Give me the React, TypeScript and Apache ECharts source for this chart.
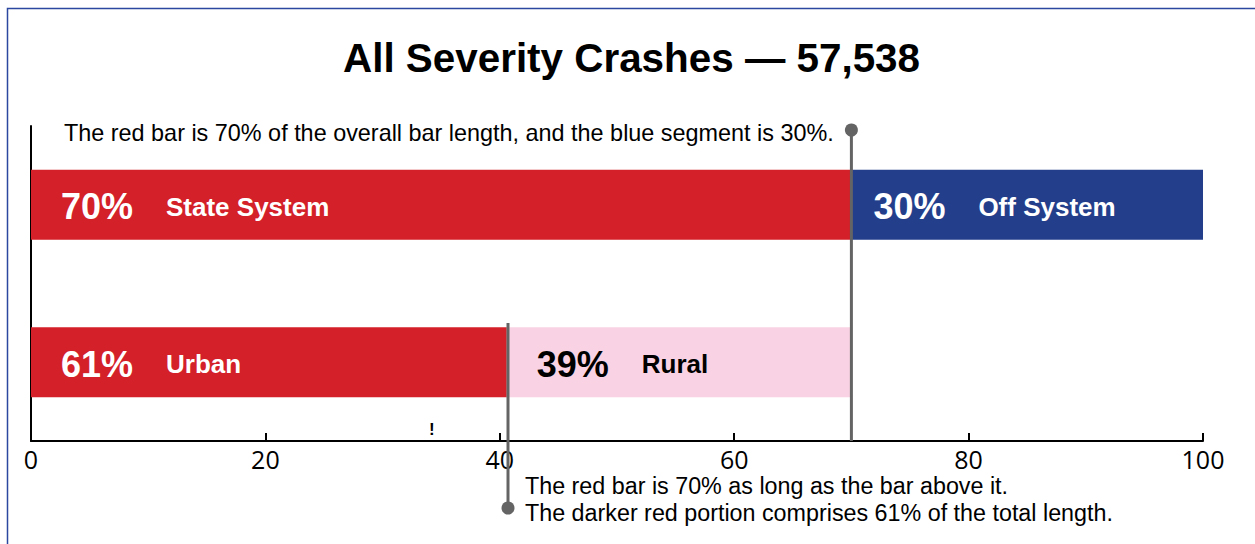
import React, { useEffect, useRef } from "react";
import * as echarts from "echarts";

const categories = ["System", "Area"];
const primaryValues = [70, 40.6];
const secondaryValues = [30, 29.4];
const primaryPct = ["70%", "61%"];
const primaryNames = ["State System", "Urban"];
const secondaryPct = ["30%", "39%"];
const secondaryNames = ["Off System", "Rural"];
const xTickLabels = [0, 20, 40, 60, 80, 100];
const markerTopValue = 70;
const markerBottomValue = 40.7;
const smallMarkValue = 34.2;
const titleText = "All Severity Crashes \u2014 57,538";
const noteTop = "The red bar is 70% of the overall bar length, and the blue segment is 30%.";
const noteBottom1 = "The red bar is 70% as long as the bar above it.";
const noteBottom2 = "The darker red portion comprises 61% of the total length.";

const RED = "#D42028";
const BLUE = "#233F8C";
const PINK = "#F9D3E3";
const GRAY = "#646464";
const FONT = "'Liberation Sans', Arial, sans-serif";

export default function App() {
  const ref = useRef<HTMLDivElement>(null);
  useEffect(() => {
    if (!ref.current) return;
    const chart = echarts.init(ref.current, null, { renderer: "svg" });
    const rich = (color: string) => ({
      p: { fontSize: 36, fontWeight: "bold", color, fontFamily: FONT, width: 105 },
      n: { fontSize: 26, fontWeight: "bold", color, fontFamily: FONT },
    });
    chart.setOption({
      animation: false,
      backgroundColor: "#ffffff",
      title: {
        text: titleText,
        left: 343,
        top: 38,
        padding: 0,
        textStyle: { fontSize: 40.4, fontWeight: "bold", color: "#000", fontFamily: FONT },
      },
      grid: { left: 31, right: 52, top: 126, bottom: 103, containLabel: false },
      xAxis: {
        type: "value",
        min: 0,
        max: 100,
        interval: 20,
        axisLine: { show: true, lineStyle: { color: "#000", width: 2 } },
        axisTick: { show: true, inside: true, length: 8, lineStyle: { color: "#000", width: 2 } },
        axisLabel: {
          color: "#000",
          fontSize: 25,
          fontFamily: "'Open Sans', sans-serif",
          margin: 5,
          formatter: (v: number) => (xTickLabels.includes(v) ? String(v) : ""),
        },
        splitLine: { show: false },
      },
      yAxis: {
        type: "category",
        inverse: true,
        data: categories,
        axisLine: { show: true, lineStyle: { color: "#000", width: 2 } },
        axisTick: { show: false },
        axisLabel: { show: false },
      },
      series: [
        {
          type: "bar",
          stack: "total",
          barWidth: 70,
          data: primaryValues.map((v, i) => ({
            value: v,
            itemStyle: { color: RED },
            label: {
              show: true,
              position: [30, "50%"],
              offset: [0, 2],
              align: "left",
              verticalAlign: "middle",
              formatter: `{p|${primaryPct[i]}}{n|${primaryNames[i]}}`,
              rich: rich("#ffffff"),
            },
          })),
        },
        {
          type: "bar",
          stack: "total",
          barWidth: 70,
          data: secondaryValues.map((v, i) => ({
            value: v,
            itemStyle: { color: i === 0 ? BLUE : PINK },
            label: {
              show: true,
              position: [i === 0 ? 22 : 30, "50%"],
              offset: [0, 2],
              align: "left",
              verticalAlign: "middle",
              formatter: `{p|${secondaryPct[i]}}{n|${secondaryNames[i]}}`,
              rich: rich(i === 0 ? "#ffffff" : "#000000"),
            },
          })),
        },
      ],
    });

    const xTop = chart.convertToPixel({ xAxisIndex: 0 }, markerTopValue) as number;
    const xBot = chart.convertToPixel({ xAxisIndex: 0 }, markerBottomValue) as number;
    const xMark = chart.convertToPixel({ xAxisIndex: 0 }, smallMarkValue) as number;
    const axisY = 441;

    chart.setOption({
      graphic: [
        {
          type: "rect",
          shape: { x: 7.5, y: 8.5, width: 1400, height: 700 },
          style: { fill: "none", stroke: "#2B47A0", lineWidth: 1.5 },
          silent: true,
        },
        {
          type: "line",
          shape: { x1: xTop, y1: 130, x2: xTop, y2: axisY },
          style: { stroke: GRAY, lineWidth: 3 },
          z: 10,
        },
        { type: "circle", shape: { cx: xTop, cy: 130, r: 6.5 }, style: { fill: GRAY }, z: 10 },
        {
          type: "line",
          shape: { x1: xBot, y1: 323, x2: xBot, y2: 508 },
          style: { stroke: GRAY, lineWidth: 3 },
          z: 10,
        },
        { type: "circle", shape: { cx: xBot, cy: 508, r: 6.5 }, style: { fill: GRAY }, z: 10 },
        {
          type: "text",
          x: 64,
          y: 133,
          style: { text: noteTop, fontSize: 23.4, fontFamily: FONT, fill: "#000", verticalAlign: "middle", align: "left" },
        },
        {
          type: "text",
          x: 525,
          y: 486,
          style: { text: noteBottom1, fontSize: 23.3, fontFamily: FONT, fill: "#000", verticalAlign: "middle", align: "left" },
        },
        {
          type: "text",
          x: 525,
          y: 513,
          style: { text: noteBottom2, fontSize: 23.3, fontFamily: FONT, fill: "#000", verticalAlign: "middle", align: "left" },
        },
        {
          type: "text",
          x: xMark,
          y: 438,
          style: { text: "!", fontSize: 17, fontWeight: "bold", fontFamily: FONT, fill: "#000", verticalAlign: "bottom", align: "center" },
        },
      ],
    });
    return () => chart.dispose();
  }, []);
  return (
    <div
      ref={ref}
      style={{ position: "absolute", left: 0, top: 0, width: 1255, height: 544, background: "#fff" }}
    />
  );
}
